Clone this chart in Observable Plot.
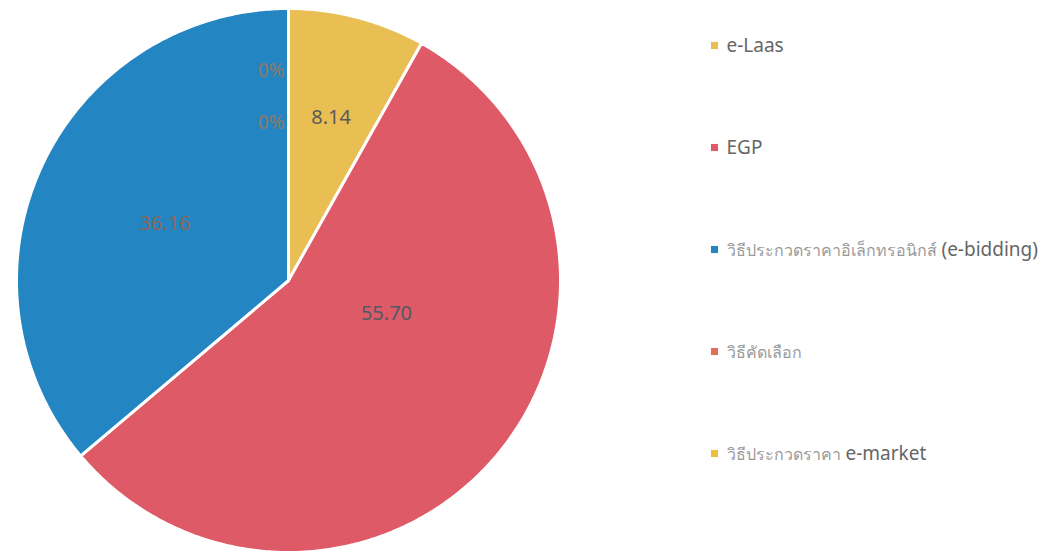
<!DOCTYPE html>
<html>
<head>
<meta charset="utf-8">
<script src="https://cdn.jsdelivr.net/npm/d3@7"></script>
<script src="https://cdn.jsdelivr.net/npm/@observablehq/plot@0.6"></script>
<style>
  html, body { margin: 0; padding: 0; background: #fff; }
  #wrap { position: relative; width: 1043px; height: 556px; overflow: hidden; }
  #wrap > div { position: absolute; top: 0; }
  #pie { left: 0; }
  #legend { left: 700px; }
  svg { font-family: "Noto Sans", "Open Sans", sans-serif; }
</style>
</head>
<body>
<div id="wrap"><div id="pie"></div><div id="legend"></div></div>
<script>
// ---- data ----
const categories = ["e-Laas", "EGP", "วิธีประกวดราคาอิเล็กทรอนิกส์ (e-bidding)", "วิธีคัดเลือก", "วิธีประกวดราคา e-market"];
const values = [8.14, 55.70, 36.16, 0, 0];
const valueLabels = ["8.14", "55.70", "36.16", "0%", "0%"];
const colors = ["#E9BE52", "#DF5A67", "#2385C2", "#E0705E", "#E9C040"];

// ---- layout / style ----
const labelRadius = [0.62, 0.38, 0.50, 0.77, 0.58];
const labelTurn = [0, -21, 0, 0, 0]; // degrees, label placement nudge
const labelColors = ["#5a5a5a", "#4f5a66", "#8a6656", "#8a7a6a", "#8a7a6a"];
const color = {domain: categories, range: colors};

const arcs = d3.pie().sort(null).value(d => d.value)(categories.map((c, i) => ({c, i, value: values[i]})));

// slice outlines: polygons sampled along each arc
const slicePts = [];
arcs.forEach(a => {
  if (a.endAngle - a.startAngle <= 0) return;
  slicePts.push({c: a.data.c, x: 0, y: 0});
  const n = Math.max(2, Math.ceil((a.endAngle - a.startAngle) / 0.01));
  for (let k = 0; k <= n; k++) {
    const t = a.startAngle + (a.endAngle - a.startAngle) * k / n;
    slicePts.push({c: a.data.c, x: Math.sin(t), y: Math.cos(t)});
  }
});

const labels = arcs.map(a => {
  const m = (a.startAngle + a.endAngle) / 2 + labelTurn[a.data.i] * Math.PI / 180;
  const r = labelRadius[a.data.i];
  return {text: valueLabels[a.data.i], x: Math.sin(m) * r, y: Math.cos(m) * r, zero: a.data.value === 0, col: labelColors[a.data.i]};
});

const pie = Plot.plot({
  width: 700, height: 556,
  margin: 0,
  x: {domain: [-1, 1], range: [16, 560], axis: null},
  y: {domain: [-1, 1], range: [552, 8], axis: null},
  color,
  marks: [
    Plot.line(slicePts, {x: "x", y: "y", z: "c", fill: "c", stroke: "white", strokeWidth: 3, curve: "linear-closed", strokeLinejoin: "round"}),
    Plot.text(labels.filter(d => !d.zero), {x: "x", y: "y", text: "text", fill: d => d.col, fontSize: 20}),
    Plot.text(labels.filter(d => d.zero), {x: "x", y: "y", text: "text", fill: d => d.col, fontSize: 19, textAnchor: "end", dx: -4})
  ]
});
document.getElementById("pie").appendChild(pie);

const legend = Plot.plot({
  width: 343, height: 556,
  margin: 0,
  x: {domain: [0, 1], range: [14, 343], axis: null},
  y: {domain: categories, range: [45, 453], type: "point", padding: 0, axis: null},
  color,
  marks: [
    Plot.dot(categories, {x: () => 0, y: d => d, fill: d => d, symbol: "square", r: 4}),
    Plot.text(categories, {x: () => 0, y: d => d, text: d => d, dx: 12, textAnchor: "start", fill: "#666666", fontSize: 19})
  ]
});
document.getElementById("legend").appendChild(legend);

// style Thai runs lighter/smaller, Latin runs larger (as in the original legend)
legend.querySelectorAll("text").forEach(t => {
  const s = t.textContent;
  if (!/[\u0E00-\u0E7F]/.test(s)) return;
  const runs = s.match(/[\u0E00-\u0E7F]+|[^\u0E00-\u0E7F]+/g) || [];
  t.textContent = "";
  runs.forEach(r => {
    const ts = document.createElementNS("http://www.w3.org/2000/svg", "tspan");
    ts.textContent = r;
    if (/[\u0E00-\u0E7F]/.test(r)) {
      ts.setAttribute("font-size", "16");
      ts.setAttribute("fill", "#9a9a9a");
    }
    t.appendChild(ts);
  });
});
</script>
</body>
</html>
